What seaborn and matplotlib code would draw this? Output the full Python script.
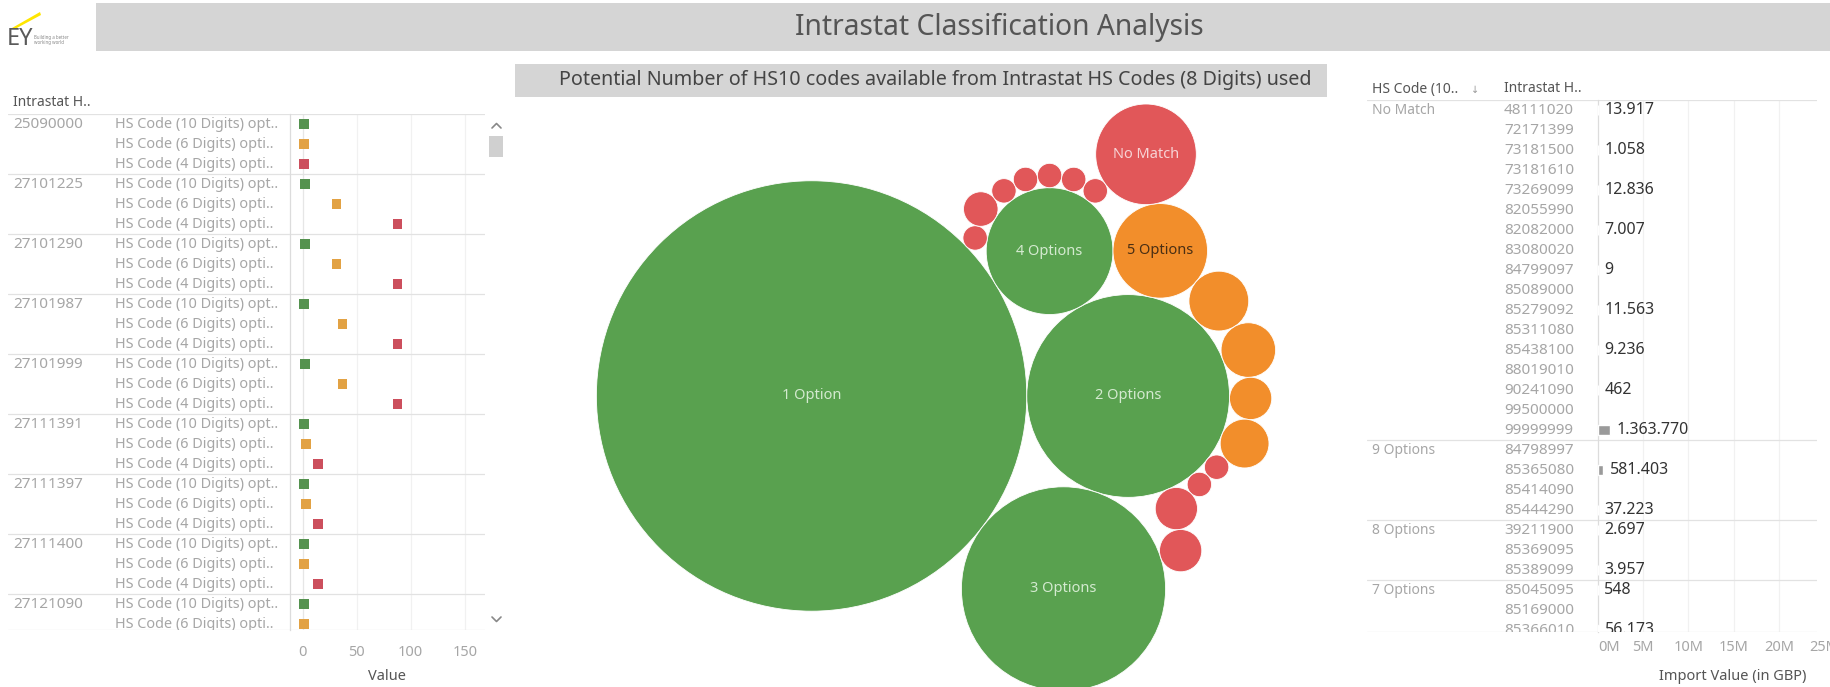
import numpy as np
import pandas as pd
import matplotlib
matplotlib.use("Agg")
import matplotlib.pyplot as plt
import matplotlib.transforms as mtrans
from matplotlib.patches import Circle, Rectangle, Polygon
from matplotlib.lines import Line2D
import seaborn as sns

# ---------------- data ----------------
bubble_categories = ["1 Option", "2 Options", "3 Options", "4 Options", "5 Options",
                     "6 Options", "7 Options", "8 Options", "9 Options", "10 Options",
                     "11 Options", "12 Options", "13 Options", "14 Options", "15 Options",
                     "16 Options", "17 Options", "18 Options", "19 Options", "20 Options",
                     "No Match"]
bubble_counts = [311, 69, 70, 27, 15, 6, 5, 3, 4, 1, 1, 3, 3, 1, 2, 1, 1, 1, 1, 1, 17]
bubble_band = ["green"] * 4 + ["orange"] * 5 + ["red"] * 12

intrastat_codes = ["25090000", "27101225", "27101290", "27101987", "27101999",
                   "27111391", "27111397", "27111400", "27121090"]
option_levels = ["HS Code (10 Digits) opt..", "HS Code (6 Digits) opti..",
                 "HS Code (4 Digits) opti.."]
hs10_options = [1, 2, 2, 1, 2, 1, 1, 1, 1]
hs6_options = [1, 31, 31, 37, 37, 3, 3, 1, 1]
hs4_options = [1, 88, 88, 88, 88, 14, 14, 14, np.nan]

match_groups = ["No Match", "9 Options", "8 Options", "7 Options"]
match_group_sizes = [17, 4, 3, 3]
match_codes = ["48111020", "72171399", "73181500", "73181610", "73269099", "82055990",
               "82082000", "83080020", "84799097", "85089000", "85279092", "85311080",
               "85438100", "88019010", "90241090", "99500000", "99999999",
               "84798997", "85365080", "85414090", "85444290",
               "39211900", "85369095", "85389099",
               "85045095", "85169000", "85366010"]
nan = np.nan
import_values = [13917, nan, 1058, nan, 12836, nan, 7007, nan, 9, nan, 11563, nan, 9236,
                 nan, 462, nan, 1363770,
                 nan, 581403, nan, 37223,
                 2697, nan, 3957,
                 548, nan, 56173]
import_ticks = [0, 5e6, 10e6, 15e6, 20e6, 25e6]
import_tick_labels = ["0M", "5M", "10M", "15M", "20M", "25M"]
value_ticks = [0, 50, 100, 150]

# ---------------- style ----------------
sns.set_theme(style="white")
plt.rcParams["font.family"] = ["Noto Sans", "DejaVu Sans"]

W, H = 1831, 687
fig = plt.figure(figsize=(W / 100, H / 100), dpi=100)
fig.patch.set_facecolor("white")

GREEN, ORANGE, RED = "#59a14f", "#f28e2b", "#e15759"
DOT_COLORS = ["#55924f", "#e2a244", "#cc4f5d"]
LIGHT = "#a6a6a6"
SEP = "#e2e2e2"
HEAD = "#555555"


def axes_px(x0, y0, x1, y1):
    return fig.add_axes([x0 / W, 1 - y1 / H, (x1 - x0) / W, (y1 - y0) / H])


def rect_px(x0, y0, x1, y1, color):
    fig.add_artist(Rectangle((x0 / W, 1 - y1 / H), (x1 - x0) / W, (y1 - y0) / H,
                             transform=fig.transFigure, color=color, lw=0, zorder=0))


def line_px(pts, color, lw=1.2):
    xs = [p[0] / W for p in pts]
    ys = [1 - p[1] / H for p in pts]
    fig.add_artist(Line2D(xs, ys, transform=fig.transFigure, color=color, lw=lw))


# ---------------- header ----------------
rect_px(96, 3, W, 51, "#d5d5d5")
fig.text(999 / W, 1 - 27 / H, "Intrastat Classification Analysis", ha="center",
         va="center", fontsize=20.3, color="#555555")
fig.add_artist(Polygon([(12 / W, 1 - 28 / H), (40 / W, 1 - 12 / H), (41 / W, 1 - 15 / H),
                        (15 / W, 1 - 29 / H)], closed=True, transform=fig.transFigure,
                       color="#ffe600", lw=0))
fig.text(7 / W, 1 - 39 / H, "EY", ha="left", va="center", fontsize=17,
         fontweight="bold", color="#5a5a5a")
fig.text(34 / W, 1 - 40 / H, "Building a better\nworking world", ha="left", va="center",
         fontsize=3.2, color="#888888", linespacing=1.0)

rect_px(515, 64, 1327, 97, "#d5d5d5")
fig.text(935 / W, 1 - 80.5 / H,
         "Potential Number of HS10 codes available from Intrastat HS Codes (8 Digits) used",
         ha="center", va="center", fontsize=14.2, fontweight="semibold", color="#444444")

# ---------------- left panel: dot plot ----------------
rows = []
for g, code in enumerate(intrastat_codes):
    for l, vals in enumerate([hs10_options, hs6_options, hs4_options]):
        rows.append({"row": 3 * g + l, "code": code, "level": option_levels[l],
                     "value": vals[g]})
dot_df = pd.DataFrame(rows).dropna()

L_TOP, L_BOT = -0.5, 25.3
axL = axes_px(290, 114, 485, 630)
for v in value_ticks[1:]:
    axL.axvline(v, color="#f1f1f1", lw=0.9, zorder=0)
axL.axvline(0, color="#e6e6e6", lw=0.9, zorder=0)
sns.scatterplot(data=dot_df, x="value", y="row", hue="level", hue_order=option_levels,
                palette=DOT_COLORS, marker="s", s=46, linewidth=0, legend=False,
                ax=axL, zorder=3)
axL.set_xlim(-11.8, 168.8)
axL.set_ylim(L_BOT, L_TOP)
axL.set_xticks(value_ticks)
axL.set_yticks([])
axL.set_xlabel("")
axL.set_ylabel("")
axL.tick_params(axis="x", length=0, labelsize=10.5, labelcolor=LIGHT, pad=11)
for s in ["top", "right", "bottom"]:
    axL.spines[s].set_visible(False)
axL.spines["left"].set_color("#dcdcdc")
axL.spines["left"].set_linewidth(0.9)
fig.text(387 / W, 1 - 677 / H, "Value", ha="center", va="center", fontsize=10.5,
         fontweight="semibold", color=HEAD)

tabL = axes_px(8, 114, 290, 630)
tabL.set_xlim(8, 290)
tabL.set_ylim(L_BOT, L_TOP)
tabL.axis("off")
for g, code in enumerate(intrastat_codes):
    t = tabL.text(13, 3 * g, code, ha="left", va="center", fontsize=11, color=LIGHT)
    t.set_clip_box(tabL.bbox)
    for l in range(3):
        r = 3 * g + l
        t = tabL.text(115, r, option_levels[l], ha="left", va="center", fontsize=10.4,
                      color=LIGHT)
        t.set_clip_box(tabL.bbox)
        t.set_clip_on(True)
for b in [L_TOP] + [3 * g - 0.5 for g in range(1, len(intrastat_codes))] + [L_BOT]:
    tabL.axhline(b, color=SEP, lw=0.9)
    axL.axhline(b, color=SEP, lw=0.9, zorder=1)
fig.text(13 / W, 1 - 103 / H, "Intrastat H..", ha="left", va="center", fontsize=10,
         fontweight="semibold", color=HEAD)

# scrollbar
rect_px(489, 136, 503, 157, "#d0d0d0")
line_px([(492, 128), (496.5, 123.5), (501, 128)], "#888888")
line_px([(492, 617), (496.5, 621.5), (501, 617)], "#888888")

# ---------------- middle: packed bubbles ----------------
R = [np.sqrt(c) for c in bubble_counts]
n = len(R)
X = [0.0] * n
Y = [0.0] * n


def _place(p1, p2, r):
    bx, by, br = p1
    ax_, ay, ar = p2
    dx, dy = bx - ax_, by - ay
    d2 = dx * dx + dy * dy
    if d2 > 0:
        a2 = (ar + r) ** 2
        b2 = (br + r) ** 2
        if a2 > b2:
            x = (d2 + b2 - a2) / (2 * d2)
            y = np.sqrt(max(0.0, b2 / d2 - x * x))
            return bx - x * dx - y * dy, by - x * dy + y * dx
        x = (d2 + a2 - b2) / (2 * d2)
        y = np.sqrt(max(0.0, a2 / d2 - x * x))
        return ax_ + x * dx - y * dy, ay + x * dy + y * dx
    return ax_ + r, ay


def _P(k):
    return (X[k], Y[k], R[k])


def _hits(k, x, y, r):
    dr = R[k] + r - 1e-6
    return dr > 0 and dr * dr > (X[k] - x) ** 2 + (Y[k] - y) ** 2


def _try(a, b, r, nxt, prv):
    nxt = dict(nxt)
    prv = dict(prv)
    for _ in range(500):
        x, y = _place(_P(a), _P(b), r)
        j, k = nxt[b], prv[a]
        sj, sk = R[b], R[a]
        hit = False
        for _ in range(500):
            if sj <= sk:
                if _hits(j, x, y, r):
                    b = j
                    nxt[a] = b
                    prv[b] = a
                    hit = True
                    break
                sj += R[j]
                j = nxt[j]
            else:
                if _hits(k, x, y, r):
                    a = k
                    nxt[a] = b
                    prv[b] = a
                    hit = True
                    break
                sk += R[k]
                k = prv[k]
            if j == nxt[k]:
                break
        if not hit:
            return a, b, x, y, nxt, prv
    return a, b, x, y, nxt, prv


X[0] = -R[1]
X[1] = R[0]
X[2], Y[2] = _place(_P(1), _P(0), R[2])
nxt = {0: 1, 1: 2, 2: 0}
prv = {1: 0, 2: 1, 0: 2}
cur = (0, 1)
ox, oy = R[0] - R[1], 0.0
JUMP = 1.35
for i in range(3, n):
    r = R[i]
    cont = _try(cur[0], cur[1], r, nxt, prv)
    dc = np.hypot(cont[2] - ox, cont[3] - oy)
    best, bd = cont, dc
    node = cur[0]
    for _ in range(n + 1):
        cand = _try(node, nxt[node], r, nxt, prv)
        d = np.hypot(cand[2] - ox, cand[3] - oy)
        if d < bd:
            best, bd = cand, d
        node = nxt[node]
        if node == cur[0]:
            break
    chosen = best if bd * JUMP < dc else cont
    a, b, x, y, nxt, prv = chosen
    X[i], Y[i] = x, y
    nxt[a] = i
    prv[i] = a
    nxt[i] = b
    prv[b] = i
    cur = (i, b)

xmin = min(X[k] - R[k] for k in range(n))
xmax = max(X[k] + R[k] for k in range(n))
ymin = min(Y[k] - R[k] for k in range(n))
ymax = max(Y[k] + R[k] for k in range(n))
BX0, BY0, BX1, BY1 = 530, 104, 1342, 691
PW, PH = BX1 - BX0, BY1 - BY0
scale = min(PW / (xmax - xmin), PH / (ymax - ymin))
cx, cy = (xmin + xmax) / 2, (ymin + ymax) / 2
axB = axes_px(BX0, BY0, BX1, BY1)
axB.set_xlim(cx - PW / (2 * scale), cx + PW / (2 * scale))
axB.set_ylim(cy + PH / (2 * scale), cy - PH / (2 * scale))
axB.axis("off")
band_color = {"green": GREEN, "orange": ORANGE, "red": RED}
label_color = {"green": "#d4ead0", "orange": "#4a2f14", "red": "#f7d3d5"}
for k in range(n):
    axB.add_patch(Circle((X[k], Y[k]), R[k], facecolor=band_color[bubble_band[k]],
                         edgecolor="white", lw=0.6))
    if bubble_counts[k] >= 15:
        axB.text(X[k], Y[k], bubble_categories[k], ha="center", va="center",
                 fontsize=10.5, color=label_color[bubble_band[k]])

# ---------------- right panel: import value bars ----------------
R_TOP, R_BOT = -0.5, 26.1
bar_df = pd.DataFrame({"code": match_codes, "value": import_values})
axR = axes_px(1598, 100, 1817, 632)
for v in import_ticks[1:5]:
    axR.axvline(v, color="#f1f1f1", lw=0.9, zorder=0)
sns.barplot(data=bar_df, x="value", y="code", order=match_codes, orient="h",
            color="#9a9a9a", width=0.5, errorbar=None, ax=axR, zorder=3)
axR.set_xlim(0, 24.2e6)
axR.set_ylim(R_BOT, R_TOP)
axR.set_xticks(import_ticks[:5])
axR.set_xticklabels(import_tick_labels[:5])
axR.get_xticklabels()[0].set_ha("left")
axR.set_yticks([])
axR.set_xlabel("")
axR.set_ylabel("")
axR.tick_params(axis="x", length=0, labelsize=10.5, labelcolor=LIGHT, pad=6)
t25 = axR.text(import_ticks[5], -0.03, import_tick_labels[5],
               transform=mtrans.blended_transform_factory(axR.transData, axR.transAxes),
               ha="center", va="center", fontsize=10.5, color=LIGHT, clip_on=False)
for s in ["top", "right", "bottom"]:
    axR.spines[s].set_visible(False)
axR.spines["left"].set_color("#dcdcdc")
axR.spines["left"].set_linewidth(0.9)
for i, v in enumerate(import_values):
    if not np.isnan(v):
        lbl = f"{int(v):,}".replace(",", ".")
        t = axR.annotate(lbl, (v, i), xytext=(4.5, 0), textcoords="offset points",
                         ha="left", va="center", fontsize=11.5, color="#333333",
                         annotation_clip=False)
        t.set_clip_box(axR.bbox)
        t.set_clip_on(True)
fig.text(1733 / W, 1 - 677 / H, "Import Value (in GBP)", ha="center", va="center",
         fontsize=10.5, fontweight="semibold", color=HEAD)

tabR = axes_px(1367, 100, 1598, 632)
tabR.set_xlim(1367, 1598)
tabR.set_ylim(R_BOT, R_TOP)
tabR.axis("off")
start = 0
bounds = [R_TOP]
for gname, gsize in zip(match_groups, match_group_sizes):
    t = tabR.text(1372, start, gname, ha="left", va="center", fontsize=10, color=LIGHT)
    t.set_clip_box(tabR.bbox)
    start += gsize
    bounds.append(start - 0.5)
for i, code in enumerate(match_codes):
    t = tabR.text(1504, i, code, ha="left", va="center", fontsize=11, color=LIGHT)
    t.set_clip_box(tabR.bbox)
    t.set_clip_on(True)
bounds[-1] = R_BOT
for b in bounds:
    tabR.axhline(b, color=SEP, lw=0.9)
    axR.axhline(b, color=SEP, lw=0.9, zorder=1)
fig.text(1372 / W, 1 - 89 / H, "HS Code (10..", ha="left", va="center", fontsize=10,
         fontweight="semibold", color=HEAD)
fig.text(1471 / W, 1 - 90 / H, "\u2193", ha="left", va="center", fontsize=7,
         color="#999999", family="DejaVu Sans")
fig.text(1504 / W, 1 - 89 / H, "Intrastat H..", ha="left", va="center", fontsize=10,
         fontweight="semibold", color=HEAD)

fig.savefig("out.png", dpi=100, facecolor="white")
